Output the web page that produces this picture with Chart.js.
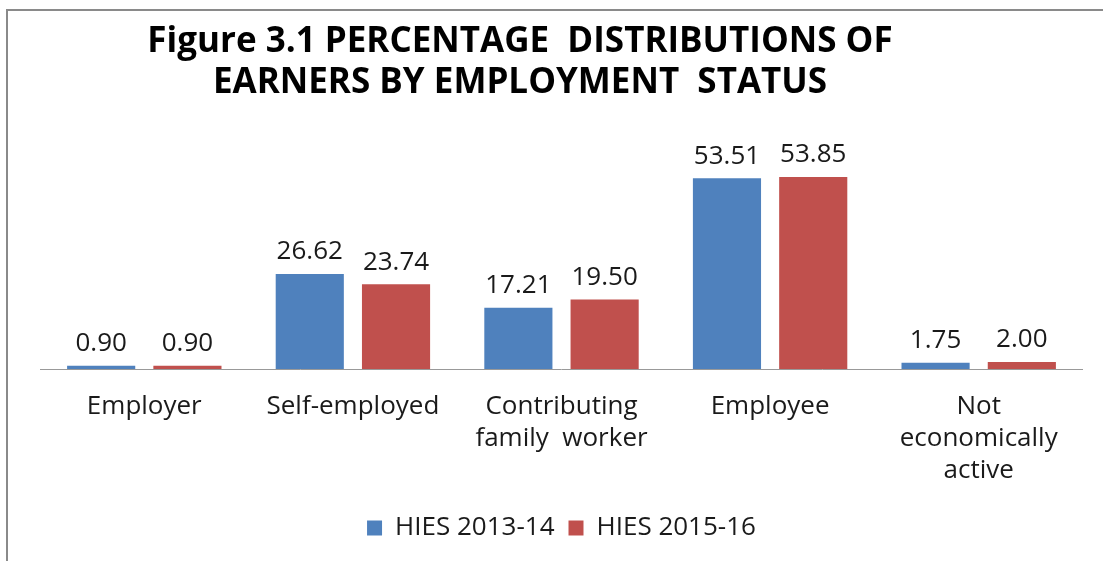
<!DOCTYPE html>
<html>
<head>
<meta charset="utf-8">
<script src="https://cdn.jsdelivr.net/npm/chart.js@4.4.0/dist/chart.umd.min.js"></script>
<style>
  html, body { margin: 0; padding: 0; background: #fff; }
  #wrap { position: relative; width: 1103px; height: 561px; }
  #frame { position: absolute; left: 6px; top: 9px; right: -5px; bottom: -5px;
           border-top: 2px solid #8a8a8a; border-left: 2px solid #8a8a8a; }
  canvas { position: absolute; left: 0; top: 0; }
</style>
</head>
<body>
<div id="wrap">
  <div id="frame"></div>
  <canvas id="chart" width="1103" height="561"></canvas>
</div>
<script>
var categories = [
  "Employer",
  "Self-employed",
  ["Contributing", "family  worker"],
  "Employee",
  ["Not", "economically", "active"]
];
var seriesNames = ["HIES 2013-14", "HIES 2015-16"];
var hies1314 = [0.90, 26.62, 17.21, 53.51, 1.75];
var hies1516 = [0.90, 23.74, 19.50, 53.85, 2.00];
var titleLines = ["Figure 3.1 PERCENTAGE  DISTRIBUTIONS OF", "EARNERS BY EMPLOYMENT  STATUS"];

var fontFamily = "'Open Sans', sans-serif";

// draws the two title lines, a bit left of the canvas centre like the original
var titlePlugin = {
  id: "titleLines",
  afterDraw: function(chart) {
    var ctx = chart.ctx;
    ctx.save();
    ctx.fillStyle = "#000";
    ctx.font = "bold 35px " + fontFamily;
    ctx.textAlign = "center";
    ctx.textBaseline = "middle";
    ctx.fillText(titleLines[0], 520, 42);
    ctx.fillText(titleLines[1], 520, 83);
    ctx.restore();
  }
};

// category axis line, only as wide as the plot area
var baselinePlugin = {
  id: "baseline",
  beforeDatasetsDraw: function(chart) {
    var ctx = chart.ctx;
    var area = chart.chartArea;
    var y = Math.round(chart.scales.y.getPixelForValue(0)) + 0.5;
    ctx.save();
    ctx.strokeStyle = "#999";
    ctx.lineWidth = 1;
    ctx.beginPath();
    ctx.moveTo(area.left, y);
    ctx.lineTo(area.right, y);
    ctx.stroke();
    ctx.restore();
  }
};

// value labels over the bars
var valuePlugin = {
  id: "valueLabels",
  afterDatasetsDraw: function(chart) {
    var ctx = chart.ctx;
    ctx.save();
    ctx.fillStyle = "#1a1a1a";
    ctx.font = "26px " + fontFamily;
    ctx.textAlign = "center";
    ctx.textBaseline = "middle";
    chart.data.datasets.forEach(function(ds, i) {
      chart.getDatasetMeta(i).data.forEach(function(bar, j) {
        ctx.fillText(ds.data[j].toFixed(2), bar.x, bar.y - 22);
      });
    });
    ctx.restore();
  }
};

new Chart(document.getElementById("chart"), {
  type: "bar",
  data: {
    labels: categories,
    datasets: [{
      label: seriesNames[0],
      data: hies1314,
      backgroundColor: "#4F81BD",
      categoryPercentage: 0.827,
      barPercentage: 0.79
    }, {
      label: seriesNames[1],
      data: hies1516,
      backgroundColor: "#C0504D",
      categoryPercentage: 0.827,
      barPercentage: 0.79
    }]
  },
  options: {
    responsive: false,
    animation: false,
    layout: { padding: { top: 155, left: 40, right: 20, bottom: 10 } },
    scales: {
      x: {
        grid: { display: false },
        border: { display: false },
        ticks: {
          color: "#1a1a1a",
          font: { family: fontFamily, size: 26, lineHeight: 1.23 },
          padding: 14,
          maxRotation: 0,
          autoSkip: false
        }
      },
      y: {
        display: false,
        min: 0,
        max: 60
      }
    },
    plugins: {
      title: { display: false },
      tooltip: { enabled: false },
      legend: {
        position: "bottom",
        labels: {
          color: "#1a1a1a",
          font: { family: fontFamily, size: 26 },
          boxWidth: 15,
          boxHeight: 15,
          padding: 14
        }
      }
    }
  },
  plugins: [titlePlugin, baselinePlugin, valuePlugin]
});
</script>
</body>
</html>
